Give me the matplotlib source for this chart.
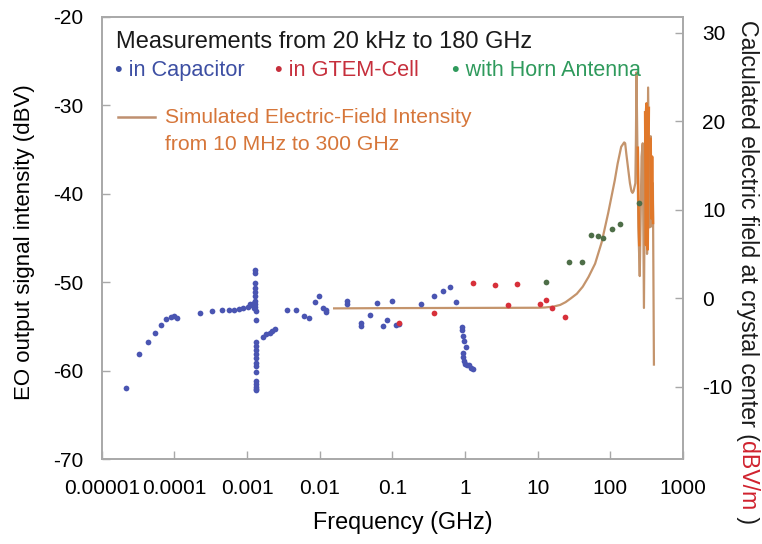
import numpy as np
import matplotlib
matplotlib.use("Agg")
import matplotlib.pyplot as plt
from matplotlib.ticker import NullLocator

plt.rcParams['font.family'] = ['Liberation Sans', 'DejaVu Sans']
plt.rcParams['axes.unicode_minus'] = False

# ---------------- data ----------------
# Measurements in capacitor (frequency GHz, EO signal dBV)
cap_f = [2.15e-5, 3.24e-5, 4.27e-5, 5.50e-5, 6.46e-5, 7.59e-5, 8.91e-5, 9.77e-5, 1.10e-4,
         2.24e-4, 3.31e-4, 4.47e-4, 5.62e-4, 6.61e-4, 7.76e-4, 8.91e-4, 1.02e-3, 1.10e-3,
         1.17e-3, 1.23e-3, 1.25e-3,
         1.29e-3, 1.29e-3, 1.29e-3, 1.29e-3, 1.29e-3, 1.29e-3, 1.29e-3, 1.29e-3, 1.29e-3,
         1.31e-3, 1.31e-3,
         1.34e-3, 1.34e-3, 1.34e-3, 1.35e-3, 1.35e-3, 1.35e-3, 1.35e-3, 1.34e-3, 1.35e-3,
         1.35e-3, 1.34e-3, 1.34e-3, 1.34e-3,
         1.66e-3, 1.82e-3, 2.04e-3, 2.24e-3, 2.40e-3,
         3.55e-3, 4.79e-3, 6.03e-3, 7.24e-3, 8.51e-3, 9.77e-3, 1.10e-2, 1.23e-2, 1.23e-2,
         2.40e-2, 2.40e-2, 3.72e-2, 3.72e-2, 4.90e-2, 6.17e-2, 7.41e-2, 8.51e-2, 0.100,
         0.112, 0.123, 0.251, 0.380, 0.501, 0.631, 0.759,
         0.895, 0.895, 0.933, 0.964, 1.016, 0.933, 0.933, 0.964, 1.0, 1.05, 1.13, 1.19, 1.29]
cap_v = [-62.0, -58.1, -56.8, -55.7, -54.8, -54.1, -53.9, -53.8, -54.0,
         -53.5, -53.2, -53.1, -53.1, -53.1, -53.0, -52.9, -52.8, -52.5,
         -52.6, -52.3, -52.9,
         -48.6, -48.9, -50.1, -50.7, -51.1, -51.6, -52.1, -52.5, -52.8,
         -53.3, -54.3,
         -56.7, -57.2, -57.7, -58.1, -58.6, -59.1, -59.5, -60.1, -61.1,
         -61.5, -61.8, -62.1, -62.2,
         -56.2, -55.9, -55.7, -55.5, -55.3,
         -53.1, -53.1, -53.8, -54.0, -52.2, -51.6, -52.9, -53.1, -53.4,
         -52.1, -52.4, -54.6, -54.9, -53.7, -52.3, -54.9, -54.3, -52.1,
         -54.8, -54.7, -52.5, -51.6, -51.0, -50.55, -52.2,
         -55.1, -55.4, -56.1, -56.6, -57.3, -58.0, -58.4, -58.9, -59.2, -59.4, -59.3, -59.65, -59.85]

# Measurements in GTEM cell
gtem_f = [0.123, 0.380, 1.29, 2.62, 3.92, 5.20, 10.6, 13.2, 15.8, 24.0]
gtem_v = [-54.6, -53.5, -50.05, -50.3, -52.6, -50.2, -52.5, -52.0, -52.9, -53.9]

# Measurements with horn antenna
horn_f = [13.1, 26.9, 40.7, 53.7, 67.6, 79.4, 105, 135, 250]
horn_v = [-50.0, -47.7, -47.7, -44.7, -44.8, -45.0, -44.0, -43.4, -41.0]

# Simulated electric field at crystal center (GHz, dBV/m)
sim_f = [0.0158, 0.1, 1.0, 10.0, 12.6, 16.5, 20.4, 24.2, 28.8, 34.6, 41.7, 50.1, 61.7,
         75.9, 93.3, 115, 126, 141, 155, 160, 166, 176, 186, 195, 202, 209,
         221, 225, 229, 243, 254, 269, 279, 290, 302, 313, 320, 331, 347, 359, 372, 385, 398]
sim_v = [-1.15, -1.12, -1.1, -1.08, -1.05, -0.95, -0.76, -0.45, 0.0, 0.5, 1.3, 2.4, 3.9,
         6.3, 9.6, 13.3, 15.2, 17.1, 17.6, 17.5, 16.3, 14.6, 13.0, 12.1, 11.9, 12.1,
         13.0, 18.0, 25.5, 8.0, 2.5, 16.0, 17.5, -1.1, 20.0, 22.0, 5.0, 23.8, 8.0, 18.3, 8.1, 13.0, -7.5]
# stronger resonance segments (drawn darker)
res1_f = [239, 244, 250]
res1_v = [17.0, 11.0, 6.0]
res2_f = [301, 309, 316, 327, 339]
res2_v = [21.0, 6.0, 22.0, 5.5, 21.5]
res3_f = [359, 367, 376, 387]
res3_v = [18.0, 9.0, 16.0, 8.5]

xtick_vals = [1e-5, 1e-4, 1e-3, 1e-2, 1e-1, 1, 10, 100, 1000]
xtick_labels = ['0.00001', '0.0001', '0.001', '0.01', '0.1', '1', '10', '100', '1000']
ytick_left = [-70, -60, -50, -40, -30, -20]
ytick_right = [-10, 0, 10, 20, 30]

# ---------------- figure ----------------
W, H = 762, 544
fig = plt.figure(figsize=(W / 100, H / 100), dpi=100)
x0, x1, yb, yt = 101.7, 683.0, 459.3, 16.7
ax = fig.add_axes([x0 / W, 1 - yb / H, (x1 - x0) / W, (yb - yt) / H])
ax2 = ax.twinx()

spine_col = '#A8A8A8'
for a in (ax, ax2):
    for s in a.spines.values():
        s.set_color(spine_col)
        s.set_linewidth(1.2)

ax.set_xscale('log')
ax.set_xlim(1e-5, 1e3)
ax.set_ylim(-70, -20)
ax.set_xticks(xtick_vals)
ax.set_xticklabels(xtick_labels)
ax.xaxis.set_minor_locator(NullLocator())
ax.set_yticks(ytick_left)
ax.tick_params(axis='x', direction='in', length=6, width=1, color=spine_col, labelsize=15, pad=14.5)
ax.tick_params(axis='y', direction='in', length=6, width=1, color=spine_col, labelsize=15, pad=13)

ax2.set_ylim(-18.2, 31.8)
ax2.set_yticks(ytick_right)
ax2.tick_params(axis='y', direction='in', length=6, width=1, color=spine_col, labelsize=15, pad=14)

sim_col = '#C4946C'
res_col = '#E0782A'
ax2.plot(sim_f, sim_v, color=sim_col, lw=1.6, zorder=2)
for rf, rv in ((res1_f, res1_v), (res2_f, res2_v), (res3_f, res3_v)):
    ax2.plot(rf, rv, color=res_col, lw=1.8, zorder=3)

ax.set_zorder(ax2.get_zorder() + 1)
ax.patch.set_visible(False)

ax.scatter(cap_f, cap_v, s=17, color='#4A55B2', linewidths=0, zorder=4)
ax.scatter(gtem_f, gtem_v, s=17, color='#D7303A', linewidths=0, zorder=4)
ax.scatter(horn_f, horn_v, s=17, color='#4E6E48', linewidths=0, zorder=4)

# ---------------- in-plot legend texts ----------------
def axfx(px):
    return (px - x0) / (x1 - x0)

def axfy(py):
    return (yb - py) / (yb - yt)

ax.text(axfx(116), axfy(41.7), 'Measurements from 20 kHz to 180 GHz', transform=ax.transAxes,
        fontsize=17, color='#1A1A1A', ha='left', va='center')
ax.text(axfx(115), axfy(70), '\u2022 in Capacitor', transform=ax.transAxes,
        fontsize=15.7, color='#3D4FA3', ha='left', va='center')
ax.text(axfx(275), axfy(70), '\u2022 in GTEM-Cell', transform=ax.transAxes,
        fontsize=15.7, color='#C62F3C', ha='left', va='center')
ax.text(axfx(451.7), axfy(70), '\u2022 with Horn Antenna', transform=ax.transAxes,
        fontsize=15.5, color='#2F9A5C', ha='left', va='center')
ax.plot([axfx(118), axfx(155)], [axfy(116.7), axfy(116.7)], transform=ax.transAxes,
        color='#BF9070', lw=1.8)
ax.text(axfx(165), axfy(117), 'Simulated Electric-Field Intensity', transform=ax.transAxes,
        fontsize=15.2, color='#D6763A', ha='left', va='center')
ax.text(axfx(165), axfy(145), 'from 10 MHz to 300 GHz', transform=ax.transAxes,
        fontsize=15.2, color='#D6763A', ha='left', va='center')

# ---------------- axis labels ----------------
fig.text(403 / W, 1 - 522 / H, 'Frequency (GHz)', fontsize=16.8, ha='center', va='center')
fig.text(25 / W, 1 - 242 / H, 'EO output signal intensity (dBV)', fontsize=16,
         rotation=90, ha='center', va='center')

renderer = fig.canvas.get_renderer()
yy = 1 - 20 / H
parts = [('Calculated electric field at crystal center (', '#1A1A1A'),
         ('dBV/m', '#D0222E'), (' )', '#1A1A1A')]
for txt, col in parts:
    t = fig.text(748 / W, yy, txt, rotation=270, rotation_mode='anchor', ha='left',
                 va='center', fontsize=16.7, color=col)
    bb = t.get_window_extent(renderer)
    yy -= bb.height / fig.bbox.height

fig.savefig('out.png', dpi=100)
